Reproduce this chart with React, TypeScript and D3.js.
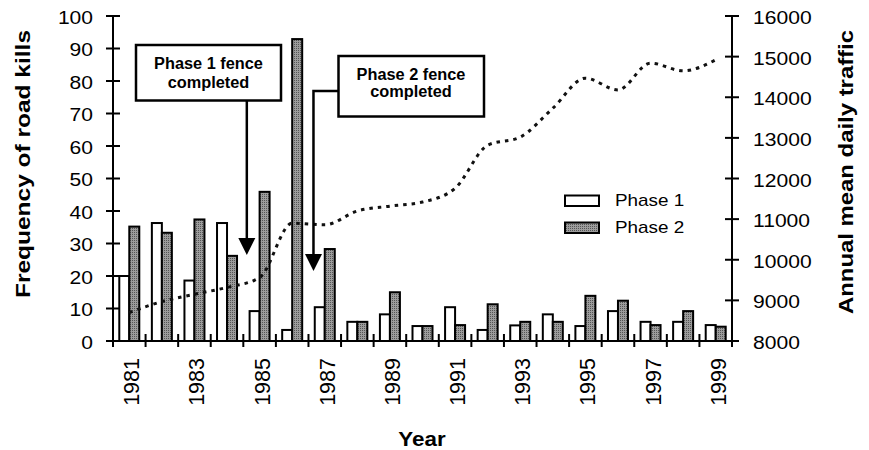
import React from "react";
import * as d3 from "d3";

const years = [1981, 1982, 1983, 1984, 1985, 1986, 1987, 1988, 1989, 1990, 1991, 1992, 1993, 1994, 1995, 1996, 1997, 1998, 1999];
const phase1 = [20, 36.3, 18.6, 36.3, 9.2, 3.4, 10.4, 5.9, 8.2, 4.6, 10.4, 3.4, 4.8, 8.2, 4.6, 9.2, 5.9, 5.9, 4.9];
const phase2 = [35.2, 33.3, 37.4, 26.2, 45.9, 92.9, 28.3, 5.9, 15, 4.6, 4.9, 11.3, 5.9, 5.9, 13.9, 12.4, 4.9, 9.2, 4.4];
const traffic = [8700, 8970, 9150, 9320, 9560, 10900, 10860, 11200, 11320, 11420, 11760, 12820, 13020, 13730, 14470, 14180, 14840, 14650, 14920];
const leftTicks = [0, 10, 20, 30, 40, 50, 60, 70, 80, 90, 100];
const rightTicks = [8000, 9000, 10000, 11000, 12000, 13000, 14000, 15000, 16000];
const labelYears = [1981, 1983, 1985, 1987, 1989, 1991, 1993, 1995, 1997, 1999];

const FONT = "'Liberation Sans', Arial, Helvetica, sans-serif";

function SText({ x, y, sx = 1, children, ...rest }: any) {
  return (
    <text transform={`translate(${x},${y}) scale(${sx},1)`} fontFamily={FONT} {...rest}>
      {children}
    </text>
  );
}

export default function App() {
  const W = 869, H = 450;
  const left = 113, right = 732, top = 16, bottom = 341;
  const x = d3.scaleBand<number>().domain(years).range([left, right]).padding(0);
  const yL = d3.scaleLinear().domain([0, 100]).range([bottom, top]);
  const yR = d3.scaleLinear().domain([8000, 16000]).range([bottom, top]);
  const bw = 10;
  const cx = (yr: number) => (x(yr) as number) + x.bandwidth() / 2;

  const line = d3
    .line<number>()
    .x((_, i) => cx(years[i]))
    .y((d) => yR(d))
    .curve(d3.curveMonotoneX);

  const boundaries = years.map((yr) => x(yr) as number).concat([right]);

  // annotation geometry
  const a1x = (x(1985) as number) + 3.5;
  const a2x = (x(1987) as number) + 5;

  return (
    <svg width={W} height={H} style={{ position: "absolute", left: 0, top: 0, background: "#fff" }}>
      <defs>
        <pattern id="stip" width="2" height="2" patternUnits="userSpaceOnUse">
          <rect width="2" height="2" fill="#9c9c9c" />
          <rect width="1" height="1" fill="#555" />
        </pattern>
      </defs>

      {/* bars */}
      {years.map((yr, i) => (
        <g key={yr}>
          <rect x={cx(yr) - bw} y={yL(phase1[i])} width={bw} height={bottom - yL(phase1[i])} fill="#fff" stroke="#000" strokeWidth={2} />
          <rect x={cx(yr)} y={yL(phase2[i])} width={bw} height={bottom - yL(phase2[i])} fill="url(#stip)" stroke="#000" strokeWidth={2} />
        </g>
      ))}

      {/* traffic line */}
      <path d={line(traffic) || ""} fill="none" stroke="#111" strokeWidth={3} strokeDasharray="3.5 5" />

      {/* left axis */}
      <line x1={left} x2={left} y1={top} y2={bottom} stroke="#000" strokeWidth={2} />
      {leftTicks.map((t) => (
        <g key={t}>
          <line x1={left - 7} x2={left + 7} y1={yL(t)} y2={yL(t)} stroke="#000" strokeWidth={2} />
          <SText x={93} y={yL(t) + 7.5} sx={1.17} fontSize={18} textAnchor="end">{t}</SText>
        </g>
      ))}

      {/* right axis */}
      <line x1={right} x2={right} y1={top} y2={bottom} stroke="#000" strokeWidth={2} />
      {rightTicks.map((t) => (
        <g key={t}>
          <line x1={right - 7} x2={right + 7} y1={yR(t)} y2={yR(t)} stroke="#000" strokeWidth={2} />
          <SText x={753} y={yR(t) + 8} sx={1.14} fontSize={18.5} textAnchor="start">{t}</SText>
        </g>
      ))}

      {/* x axis */}
      <line x1={left} x2={right} y1={bottom} y2={bottom} stroke="#000" strokeWidth={2} />
      {boundaries.map((b, i) => (
        <line key={i} x1={b} x2={b} y1={bottom - 7} y2={bottom + 6} stroke="#000" strokeWidth={2} />
      ))}
      {labelYears.map((yr) => (
        <text
          key={yr}
          transform={`translate(${cx(yr) + 10},${358}) rotate(-90)`}
          fontFamily={FONT}
          fontSize={21.5}
          textAnchor="end"
        >
          {yr}
        </text>
      ))}

      {/* axis titles */}
      <SText x={422} y={446} sx={1.12} fontSize={20} fontWeight="bold" textAnchor="middle">Year</SText>
      <text
        transform={`translate(30,164) rotate(-90)`}
        fontFamily={FONT}
        fontSize={20}
        fontWeight="bold"
        textAnchor="middle"
        textLength={268}
        lengthAdjust="spacingAndGlyphs"
      >
        Frequency of road kills
      </text>
      <text
        transform={`translate(853,172) rotate(-90)`}
        fontFamily={FONT}
        fontSize={20}
        fontWeight="bold"
        textAnchor="middle"
        textLength={284}
        lengthAdjust="spacingAndGlyphs"
      >
        Annual mean daily traffic
      </text>

      {/* legend */}
      <rect x={565} y={195.5} width={34} height={10.5} fill="#fff" stroke="#000" strokeWidth={2} />
      <SText x={615} y={206} sx={1.18} fontSize={16}>Phase 1</SText>
      <rect x={565} y={222.5} width={34} height={10.5} fill="url(#stip)" stroke="#000" strokeWidth={2} />
      <SText x={615} y={233} sx={1.18} fontSize={16}>Phase 2</SText>

      {/* annotation 1 */}
      <rect x={136} y={45} width={145} height={55.5} fill="#fff" stroke="#000" strokeWidth={2.5} />
      <SText x={208.5} y={69} sx={1.02} fontSize={16} fontWeight="bold" textAnchor="middle">Phase 1 fence</SText>
      <SText x={208.5} y={87.5} sx={1.02} fontSize={16} fontWeight="bold" textAnchor="middle">completed</SText>
      <line x1={a1x} x2={a1x} y1={100.5} y2={240} stroke="#000" strokeWidth={2.5} />
      <path d={`M${a1x - 8.5},238 L${a1x + 8.5},238 L${a1x},255 Z`} fill="#000" />

      {/* annotation 2 */}
      <rect x={338.5} y={56} width={145.5} height={60.5} fill="#fff" stroke="#000" strokeWidth={2.5} />
      <SText x={411} y={80} sx={1.02} fontSize={16} fontWeight="bold" textAnchor="middle">Phase 2 fence</SText>
      <SText x={411} y={97} sx={1.02} fontSize={16} fontWeight="bold" textAnchor="middle">completed</SText>
      <path d={`M338.5,91 L${a2x},91 L${a2x},256`} fill="none" stroke="#000" strokeWidth={2.5} />
      <path d={`M${a2x - 8.5},254 L${a2x + 8.5},254 L${a2x},271 Z`} fill="#000" />
    </svg>
  );
}
